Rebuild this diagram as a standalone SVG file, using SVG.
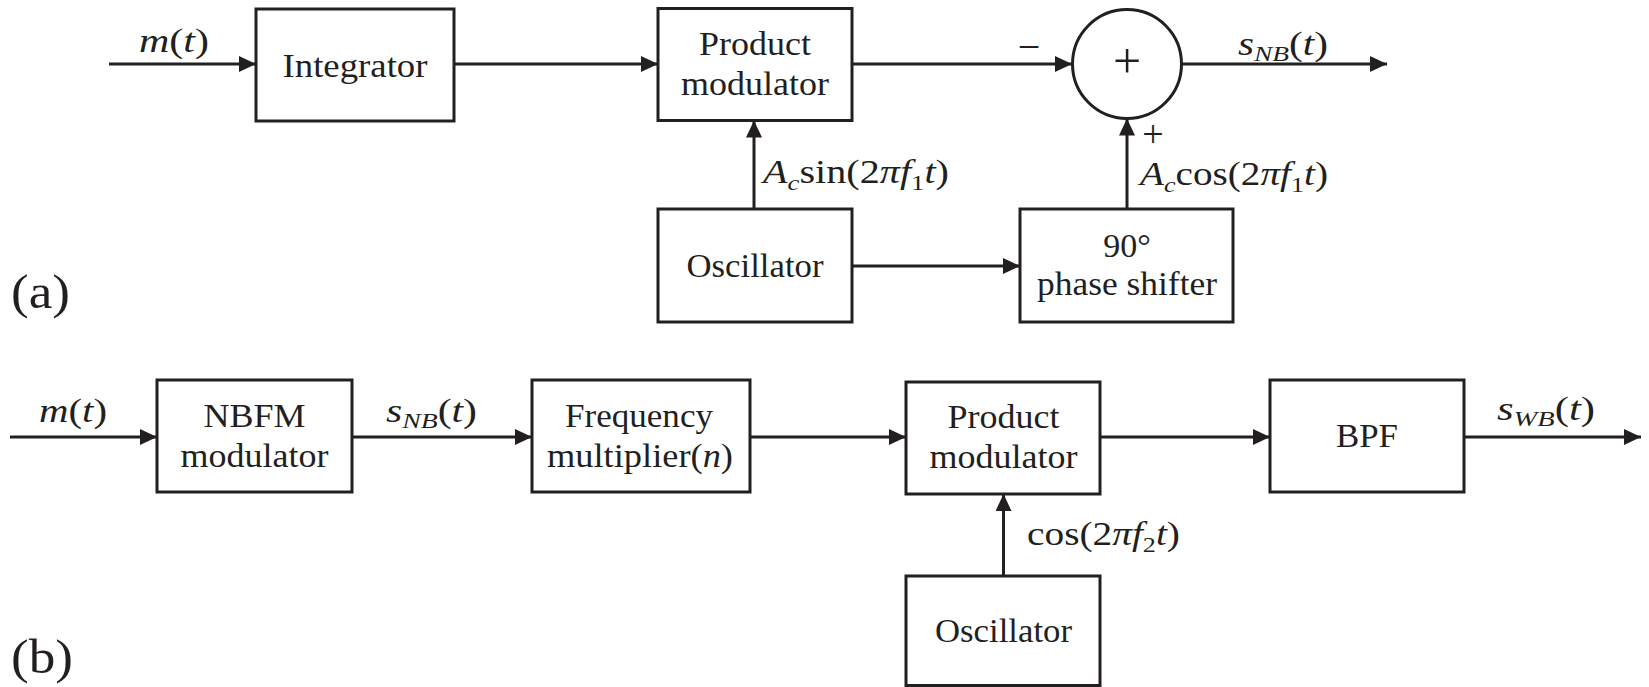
<svg xmlns="http://www.w3.org/2000/svg" width="1649" height="687" viewBox="0 0 1649 687">
<defs>
<style>
.box{fill:none;stroke:#231f20;stroke-width:3}
.ln{fill:none;stroke:#231f20;stroke-width:3;marker-end:url(#ah)}
.t{font-family:"Liberation Serif","Times New Roman",serif;font-size:34px;fill:#231f20;text-anchor:middle}
.m{font-family:"Liberation Serif","Times New Roman",serif;font-size:33px;fill:#231f20}
.i{font-style:italic}
.sub{font-size:22px;font-style:italic}
.subn{font-size:22px;font-style:normal}
.sym{font-family:"Liberation Serif","Times New Roman",serif;fill:#231f20;text-anchor:middle}
.lab{font-family:"Liberation Serif","Times New Roman",serif;font-size:48px;fill:#231f20}
</style>
<marker id="ah" markerUnits="userSpaceOnUse" markerWidth="18" markerHeight="17" refX="17" refY="8" orient="auto">
<path d="M0,0 L17,8 L0,16 z" fill="#231f20"/>
</marker>
</defs>
<rect width="1649" height="687" fill="#ffffff"/>

<g id="connectors">
<line class="ln" x1="109" y1="64" x2="256" y2="64"/>
<line class="ln" x1="454" y1="64" x2="658" y2="64"/>
<line class="ln" x1="852" y1="64" x2="1072" y2="64"/>
<line class="ln" x1="1181" y1="64" x2="1387" y2="64"/>
<line class="ln" x1="754" y1="209" x2="754" y2="120.5"/>
<line class="ln" x1="852" y1="266" x2="1020" y2="266"/>
<line class="ln" x1="1127" y1="209" x2="1127" y2="118.5"/>
<line class="ln" x1="10" y1="437" x2="157" y2="437"/>
<line class="ln" x1="352" y1="437" x2="532" y2="437"/>
<line class="ln" x1="750" y1="437" x2="906" y2="437"/>
<line class="ln" x1="1100" y1="437" x2="1270" y2="437"/>
<line class="ln" x1="1464" y1="437" x2="1641" y2="437"/>
<line class="ln" x1="1003.5" y1="576" x2="1003.5" y2="494"/>
</g>

<g id="labels">
<text class="m" x="139" y="52" textLength="70" lengthAdjust="spacingAndGlyphs"><tspan class="i">m</tspan>(<tspan class="i">t</tspan>)</text>
<text class="m" x="763" y="183" textLength="186" lengthAdjust="spacingAndGlyphs"><tspan class="i">A</tspan><tspan class="sub" dy="7">c</tspan><tspan dy="-7">sin(2</tspan><tspan class="i">πf</tspan><tspan class="subn" dy="7">1</tspan><tspan class="i" dy="-7">t</tspan>)</text>
<text class="sym" x="1029" y="60" style="font-size:40px">−</text>
<text class="m" x="1238" y="55" textLength="90" lengthAdjust="spacingAndGlyphs"><tspan class="i">s</tspan><tspan class="sub" dy="6">NB</tspan><tspan dy="-6">(</tspan><tspan class="i">t</tspan>)</text>
<text class="sym" x="1153" y="147" style="font-size:38px">+</text>
<text class="m" x="1140" y="185" textLength="188" lengthAdjust="spacingAndGlyphs"><tspan class="i">A</tspan><tspan class="sub" dy="7">c</tspan><tspan dy="-7">cos(2</tspan><tspan class="i">πf</tspan><tspan class="subn" dy="7">1</tspan><tspan class="i" dy="-7">t</tspan>)</text>
<text class="lab" x="11" y="308" textLength="59" lengthAdjust="spacingAndGlyphs">(a)</text>
<text class="m" x="39" y="422" textLength="68" lengthAdjust="spacingAndGlyphs"><tspan class="i">m</tspan>(<tspan class="i">t</tspan>)</text>
<text class="m" x="386" y="422" textLength="91" lengthAdjust="spacingAndGlyphs"><tspan class="i">s</tspan><tspan class="sub" dy="6">NB</tspan><tspan dy="-6">(</tspan><tspan class="i">t</tspan>)</text>
<text class="m" x="1027" y="545" textLength="153" lengthAdjust="spacingAndGlyphs">cos(2<tspan class="i">πf</tspan><tspan class="subn" dy="7">2</tspan><tspan class="i" dy="-7">t</tspan>)</text>
<text class="m" x="1497" y="420" textLength="98" lengthAdjust="spacingAndGlyphs"><tspan class="i">s</tspan><tspan class="sub" dy="6">WB</tspan><tspan dy="-6">(</tspan><tspan class="i">t</tspan>)</text>
<text class="lab" x="11" y="673" textLength="62" lengthAdjust="spacingAndGlyphs">(b)</text>
</g>

<g id="integrator">
<rect class="box" x="256" y="9" width="198" height="112"/>
<text class="t" x="355" y="77" textLength="145" lengthAdjust="spacingAndGlyphs">Integrator</text>
</g>
<g id="product-modulator-a">
<rect class="box" x="658" y="8.5" width="194" height="112"/>
<text class="t" x="755" y="55" textLength="112" lengthAdjust="spacingAndGlyphs">Product</text>
<text class="t" x="755" y="95" textLength="148" lengthAdjust="spacingAndGlyphs">modulator</text>
</g>
<g id="summer">
<circle class="box" cx="1127" cy="64" r="54.5"/>
<text class="sym" x="1127" y="78" style="font-size:50px">+</text>
</g>
<g id="oscillator-a">
<rect class="box" x="658" y="209" width="194" height="113"/>
<text class="t" x="755" y="277" textLength="137" lengthAdjust="spacingAndGlyphs">Oscillator</text>
</g>
<g id="phase-shifter">
<rect class="box" x="1020" y="209" width="213" height="113"/>
<text class="t" x="1127" y="257">90°</text>
<text class="t" x="1127" y="295" textLength="180" lengthAdjust="spacingAndGlyphs">phase shifter</text>
</g>

<g id="nbfm-modulator">
<rect class="box" x="157" y="380" width="195" height="112"/>
<text class="t" x="254.5" y="427" textLength="102" lengthAdjust="spacingAndGlyphs">NBFM</text>
<text class="t" x="254.5" y="467" textLength="148" lengthAdjust="spacingAndGlyphs">modulator</text>
</g>
<g id="frequency-multiplier">
<rect class="box" x="532" y="380" width="218" height="112"/>
<text class="t" x="639" y="427" textLength="148" lengthAdjust="spacingAndGlyphs">Frequency</text>
<text class="t" x="640" y="467" textLength="186" lengthAdjust="spacingAndGlyphs">multiplier(<tspan class="i">n</tspan>)</text>
</g>
<g id="product-modulator-b">
<rect class="box" x="906" y="382" width="194" height="112"/>
<text class="t" x="1003.5" y="428" textLength="112" lengthAdjust="spacingAndGlyphs">Product</text>
<text class="t" x="1003.5" y="468" textLength="148" lengthAdjust="spacingAndGlyphs">modulator</text>
</g>
<g id="oscillator-b">
<rect class="box" x="906" y="576" width="194" height="109.5"/>
<text class="t" x="1003.5" y="642" textLength="137" lengthAdjust="spacingAndGlyphs">Oscillator</text>
</g>
<g id="bpf">
<rect class="box" x="1270" y="380" width="194" height="112"/>
<text class="t" x="1367" y="447" textLength="62" lengthAdjust="spacingAndGlyphs">BPF</text>
</g>
</svg>
